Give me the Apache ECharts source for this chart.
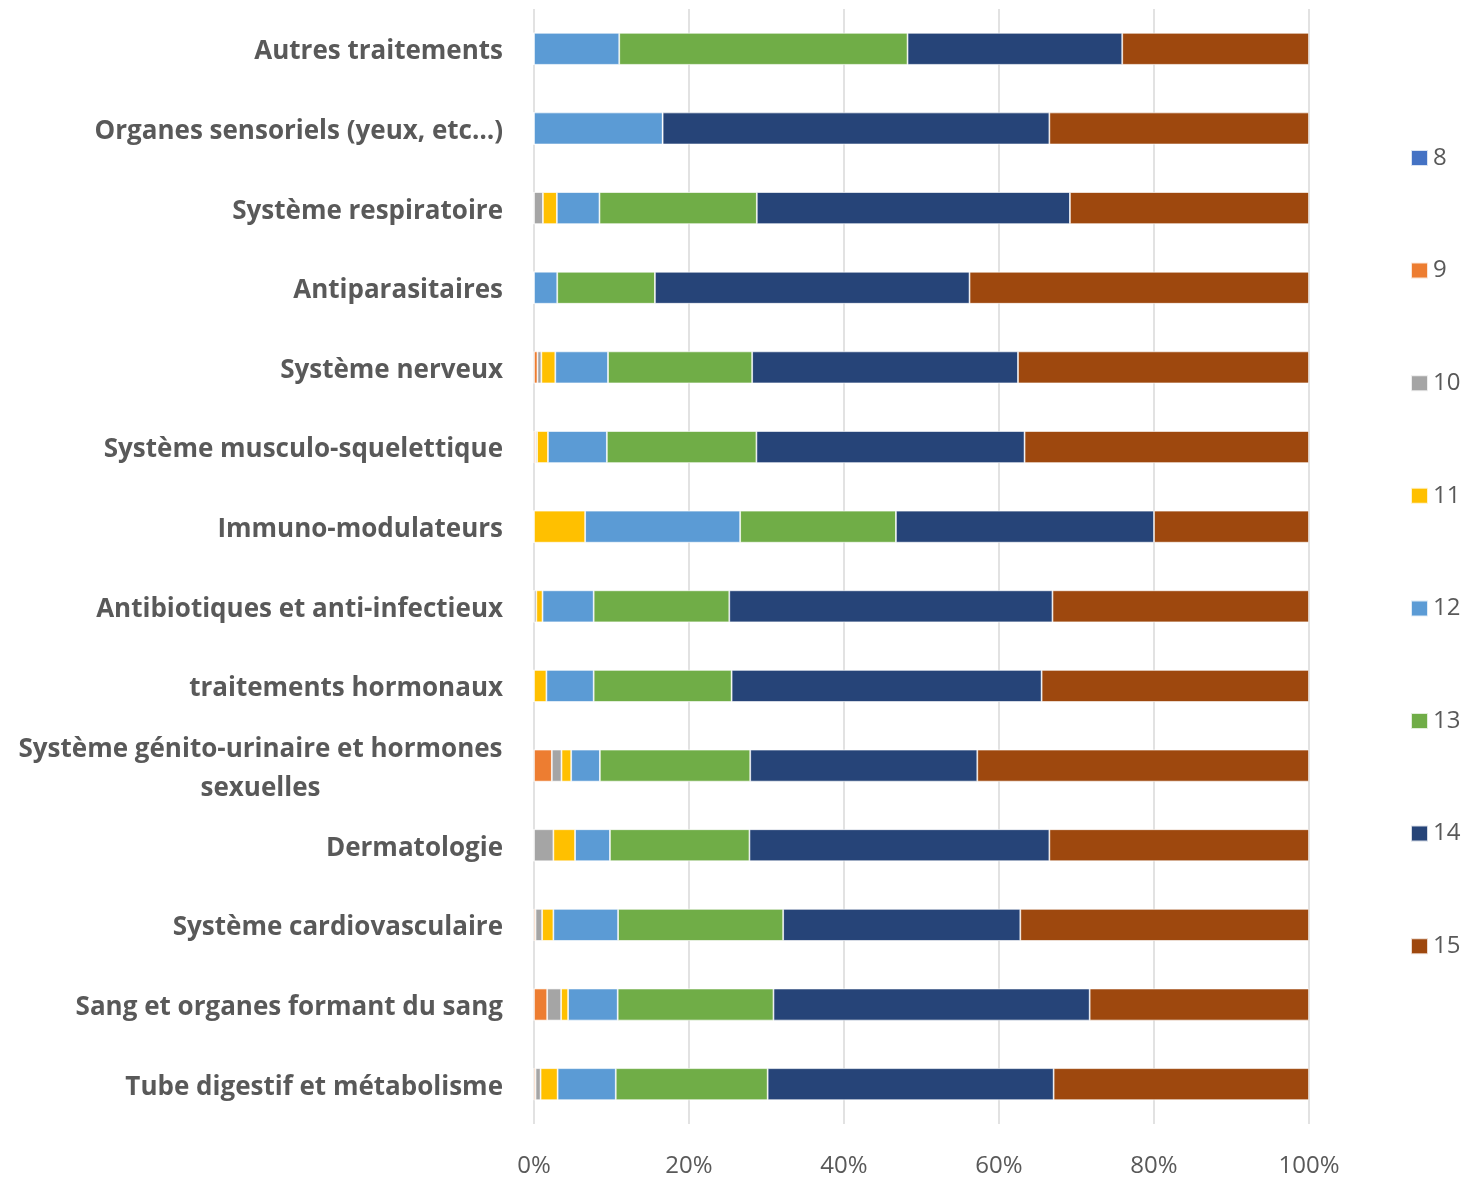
<!DOCTYPE html>
<html>
<head>
<meta charset="utf-8">
<script src="https://cdn.jsdelivr.net/npm/echarts@6/dist/echarts.min.js"></script>
<style>html,body{margin:0;padding:0;background:#fff;}#chart{width:1481px;height:1178px;}</style>
</head>
<body>
<div id="chart"></div>
<script>
const categories = [
  "Autres traitements",
  "Organes sensoriels (yeux, etc…)",
  "Système respiratoire",
  "Antiparasitaires",
  "Système nerveux",
  "Système musculo-squelettique",
  "Immuno-modulateurs",
  "Antibiotiques et anti-infectieux",
  "traitements hormonaux",
  "Système génito-urinaire et hormones sexuelles",
  "Dermatologie",
  "Système cardiovasculaire",
  "Sang et organes formant du sang",
  "Tube digestif et métabolisme"
];
const seriesNames = ["8", "9", "10", "11", "12", "13", "14", "15"];
const s8  = [0, 0, 0, 0, 0, 0, 0, 0, 0, 0, 0, 0, 0, 0];
const s9  = [0, 0, 0, 0, 0.45, 0.2, 0, 0, 0, 2.3, 0, 0.2, 1.7, 0.2];
const s10 = [0, 0, 1.15, 0, 0.5, 0.2, 0, 0.3, 0, 1.25, 2.5, 0.85, 1.8, 0.65];
const s11 = [0, 0, 1.8, 0, 1.8, 1.4, 6.6, 0.8, 1.6, 1.25, 2.8, 1.45, 0.9, 2.2];
const s12 = [11.0, 16.6, 5.5, 3.0, 6.8, 7.6, 20.0, 6.6, 6.1, 3.7, 4.5, 8.35, 6.4, 7.5];
const s13 = [37.2, 0, 20.3, 12.6, 18.6, 19.3, 20.1, 17.5, 17.8, 19.4, 18.0, 21.3, 20.1, 19.6];
const s14 = [27.7, 49.9, 40.4, 40.6, 34.3, 34.6, 33.3, 41.7, 40.0, 29.3, 38.7, 30.6, 40.8, 36.9];
const s15 = [24.1, 33.5, 30.85, 43.8, 37.55, 36.7, 20.0, 33.1, 34.5, 42.8, 33.5, 37.25, 28.3, 32.95];
const xTicks = ["0%", "20%", "40%", "60%", "80%", "100%"];

const colors = ["#4472C4", "#ED7D31", "#A5A5A5", "#FFC000", "#5B9BD5", "#70AD47", "#264478", "#9E480E"];
const values = [s8, s9, s10, s11, s12, s13, s14, s15];

const chart = echarts.init(document.getElementById('chart'), null, {renderer: 'canvas'});
const font = "'Open Sans', 'DejaVu Sans', sans-serif";
const option = {
  animation: false,
  color: colors,
  grid: {left: 534, right: 172, top: 9, bottom: 51, containLabel: false},
  legend: {
    orient: 'vertical',
    left: 1405,
    top: 141,
    itemWidth: 17,
    itemHeight: 16,
    itemGap: 88.6,
    icon: 'rect',
    data: seriesNames,
    textStyle: {color: '#595959', fontSize: 24, fontFamily: font}
  },
  xAxis: {
    type: 'value',
    min: 0,
    max: 100,
    interval: 20,
    axisLine: {show: false},
    axisTick: {show: false},
    splitLine: {show: true, lineStyle: {color: '#d9d9d9', width: 1.5}},
    axisLabel: {
      color: '#595959', fontSize: 24, fontFamily: font, margin: 30,
      formatter: function (v) { return xTicks[Math.round(v / 20)]; }
    }
  },
  yAxis: {
    type: 'category',
    data: categories,
    inverse: true,
    axisLine: {show: false},
    axisTick: {show: false},
    axisLabel: {
      color: '#595959', fontSize: 26, fontWeight: 'bold', fontFamily: font, margin: 31,
      lineHeight: 39,
      padding: [6, 0, 0, 0],
      formatter: function (v) {
        if (v.indexOf('génito') >= 0) {
          return '{c|Système génito-urinaire et hormones}\n{c|sexuelles}';
        }
        return v;
      },
      rich: {
        c: {width: 485, align: 'center', color: '#595959', fontSize: 26, fontWeight: 'bold', fontFamily: font, lineHeight: 39}
      }
    }
  },
  series: seriesNames.map(function (n, i) {
    return {
      name: n,
      type: 'bar',
      stack: 'total',
      barWidth: 32,
      data: values[i],
      itemStyle: {color: colors[i], borderColor: 'rgba(255,255,255,0.8)', borderWidth: 0.8}
    };
  })
};
chart.setOption(option);
</script>
</body>
</html>
